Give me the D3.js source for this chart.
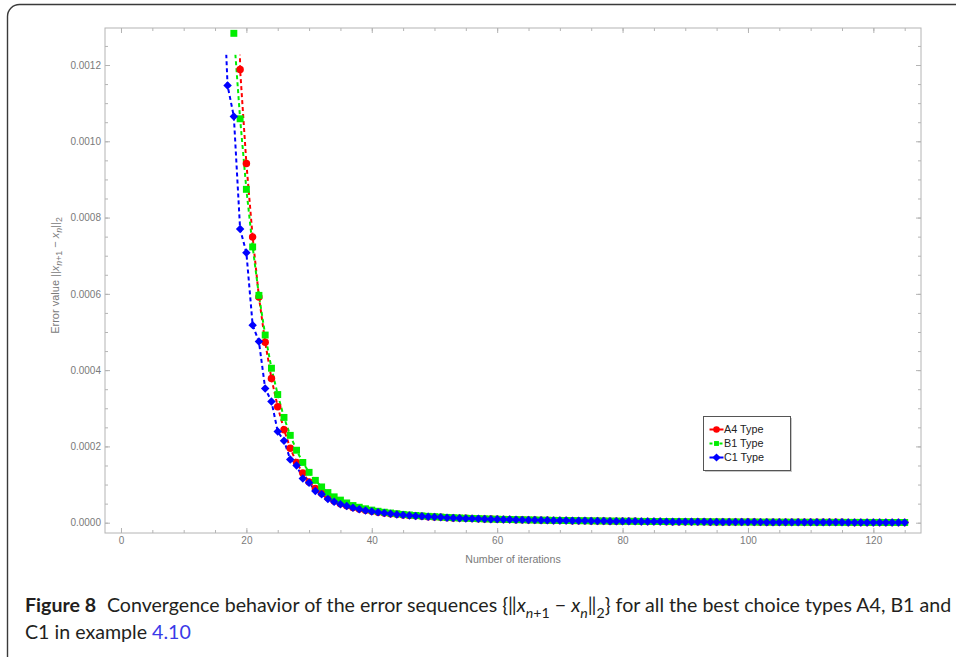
<!DOCTYPE html>
<html>
<head>
<meta charset="utf-8">
<script src="https://cdn.jsdelivr.net/npm/d3@7"></script>
<style>
  body { margin: 0; background: #fff; }
  svg { display: block; }
</style>
</head>
<body>
<script>
// ---------------- data ----------------
const seriesNames = ["A4 Type", "B1 Type", "C1 Type"];

// A4 Type, starting at iteration 18
const a4Start = 18;
const a4Values = [3.2e-3, 1.188e-3, 9.42e-4, 7.49e-4, 5.92e-4, 4.73e-4, 3.78e-4, 3.04e-4, 2.44e-4, 1.95e-4,
  1.58e-4, 1.30e-4, 1.07e-4, 8.95e-5, 7.70e-5, 6.55e-5, 5.70e-5, 5.00e-5, 4.45e-5, 3.98e-5,
  3.60e-5, 3.27e-5, 3.00e-5, 2.74e-5, 2.54e-5, 2.36e-5, 2.19e-5, 2.05e-5, 1.92e-5, 1.80e-5,
  1.69e-5, 1.59e-5, 1.50e-5, 1.41e-5, 1.33e-5, 1.26e-5, 1.20e-5, 1.14e-5, 1.08e-5, 1.03e-5,
  9.8e-6, 9.4e-6, 9.0e-6, 8.6e-6, 8.2e-6, 7.8e-6, 7.5e-6, 7.2e-6, 6.9e-6, 6.6e-6,
  6.3e-6, 6.0e-6, 5.8e-6, 5.5e-6, 5.3e-6, 5.1e-6, 4.9e-6, 4.7e-6, 4.5e-6, 4.3e-6,
  4.1e-6, 4.0e-6, 3.8e-6, 3.6e-6, 3.5e-6, 3.3e-6, 3.2e-6, 3.0e-6, 2.9e-6, 2.8e-6,
  2.7e-6, 2.6e-6, 2.5e-6, 2.4e-6, 2.3e-6, 2.2e-6, 2.1e-6, 2.0e-6, 1.9e-6, 1.8e-6,
  1.8e-6, 1.7e-6, 1.6e-6, 1.6e-6, 1.5e-6, 1.4e-6, 1.4e-6, 1.3e-6, 1.3e-6, 1.2e-6,
  1.2e-6, 1.1e-6, 1.1e-6, 1.0e-6, 1.0e-6, 1.0e-6, 9e-7, 9e-7, 8e-7, 8e-7,
  8e-7, 7e-7, 7e-7, 7e-7, 6e-7, 6e-7, 6e-7, 5e-7];

// B1 Type, starting at iteration 18
const b1Start = 18;
const b1Values = [1.283e-3, 1.059e-3, 8.74e-4, 7.23e-4, 5.96e-4, 4.92e-4, 4.05e-4, 3.36e-4, 2.76e-4, 2.29e-4,
  1.90e-4, 1.58e-4, 1.32e-4, 1.11e-4, 9.38e-5, 7.90e-5, 6.78e-5, 5.92e-5, 5.18e-5, 4.50e-5,
  4.05e-5, 3.65e-5, 3.30e-5, 3.00e-5, 2.75e-5, 2.54e-5, 2.35e-5, 2.18e-5, 2.03e-5, 1.90e-5,
  1.78e-5, 1.67e-5, 1.57e-5, 1.48e-5, 1.39e-5, 1.31e-5, 1.24e-5, 1.18e-5, 1.12e-5, 1.06e-5,
  1.01e-5, 9.6e-6, 9.2e-6, 8.8e-6, 8.4e-6, 8.0e-6, 7.7e-6, 7.4e-6, 7.1e-6, 6.8e-6,
  6.5e-6, 6.2e-6, 6.0e-6, 5.7e-6, 5.5e-6, 5.3e-6, 5.1e-6, 4.9e-6, 4.7e-6, 4.5e-6,
  4.3e-6, 4.2e-6, 4.0e-6, 3.8e-6, 3.7e-6, 3.5e-6, 3.4e-6, 3.2e-6, 3.1e-6, 3.0e-6,
  2.9e-6, 2.8e-6, 2.7e-6, 2.6e-6, 2.5e-6, 2.4e-6, 2.3e-6, 2.2e-6, 2.1e-6, 2.0e-6,
  1.9e-6, 1.8e-6, 1.8e-6, 1.7e-6, 1.6e-6, 1.6e-6, 1.5e-6, 1.4e-6, 1.4e-6, 1.3e-6,
  1.3e-6, 1.2e-6, 1.2e-6, 1.1e-6, 1.1e-6, 1.1e-6, 1.0e-6, 1.0e-6, 9e-7, 9e-7,
  9e-7, 8e-7, 8e-7, 8e-7, 7e-7, 7e-7, 7e-7, 6e-7];

// C1 Type, starting at iteration 16
const c1Start = 16;
const c1Values = [1.54e-3, 1.146e-3, 1.065e-3, 7.70e-4, 7.08e-4, 5.18e-4, 4.75e-4, 3.52e-4, 3.18e-4, 2.39e-4,
  2.15e-4, 1.66e-4, 1.50e-4, 1.16e-4, 1.05e-4, 8.34e-5, 7.45e-5, 6.20e-5, 5.48e-5, 4.85e-5,
  4.35e-5, 3.90e-5, 3.55e-5, 3.22e-5, 2.96e-5, 2.71e-5, 2.52e-5, 2.34e-5, 2.17e-5, 2.03e-5,
  1.90e-5, 1.78e-5, 1.67e-5, 1.57e-5, 1.48e-5, 1.40e-5, 1.32e-5, 1.25e-5, 1.19e-5, 1.13e-5,
  1.07e-5, 1.02e-5, 9.7e-6, 9.3e-6, 8.9e-6, 8.5e-6, 8.1e-6, 7.7e-6, 7.4e-6, 7.1e-6,
  6.8e-6, 6.5e-6, 6.2e-6, 6.0e-6, 5.7e-6, 5.5e-6, 5.3e-6, 5.1e-6, 4.9e-6, 4.7e-6,
  4.5e-6, 4.3e-6, 4.1e-6, 4.0e-6, 3.8e-6, 3.6e-6, 3.5e-6, 3.3e-6, 3.2e-6, 3.0e-6,
  2.9e-6, 2.8e-6, 2.7e-6, 2.6e-6, 2.5e-6, 2.4e-6, 2.3e-6, 2.2e-6, 2.1e-6, 2.0e-6,
  1.9e-6, 1.8e-6, 1.8e-6, 1.7e-6, 1.6e-6, 1.6e-6, 1.5e-6, 1.4e-6, 1.4e-6, 1.3e-6,
  1.3e-6, 1.2e-6, 1.2e-6, 1.1e-6, 1.1e-6, 1.0e-6, 1.0e-6, 1.0e-6, 9e-7, 9e-7,
  8e-7, 8e-7, 8e-7, 7e-7, 7e-7, 7e-7, 6e-7, 6e-7, 6e-7, 5e-7];

const xMajorTicks = [0, 20, 40, 60, 80, 100, 120];
const yMajorTicks = [0, 0.0002, 0.0004, 0.0006, 0.0008, 0.0010, 0.0012];

// ---------------- layout ----------------
const width = 956, height = 657;
const frame = { left: 105, right: 921, top: 28, bottom: 533 };
const colors = ["#ff0000", "#00ee00", "#0000ff"];
const tickGray = "#7a7a7a";
const axisGray = "#b4b4b4";

const svg = d3.select("body").append("svg")
  .attr("width", width)
  .attr("height", height);

// rounded figure box
svg.append("rect")
  .attr("x", 7.5).attr("y", 4.5)
  .attr("width", 970).attr("height", 670)
  .attr("rx", 12)
  .attr("fill", "none")
  .attr("stroke", "#3a3a3a")
  .attr("stroke-width", 1.4);

const x = d3.scaleLinear().domain([-2.55, 127.6]).range([frame.left, frame.right]);
const y = d3.scaleLinear().domain([0, 0.0012]).range([522.7, 65]);

const toPoints = (start, values) => values.map((v, i) => ({ n: start + i, v: v }));
const series = [
  toPoints(a4Start, a4Values),
  toPoints(b1Start, b1Values),
  toPoints(c1Start, c1Values)
];

// clip paths: lines stop a bit below the top frame, markers at the frame
const defs = svg.append("defs");
defs.append("clipPath").attr("id", "lineClip").append("rect")
  .attr("x", frame.left).attr("y", y(0.001227))
  .attr("width", frame.right - frame.left).attr("height", frame.bottom - y(0.001227));
defs.append("clipPath").attr("id", "markClip").append("rect")
  .attr("x", frame.left).attr("y", frame.top)
  .attr("width", frame.right - frame.left).attr("height", frame.bottom - frame.top);

// ---------------- axes ----------------
const xMinor = d3.range(0, 130, 5);
const yMinor = d3.range(0, 0.00129, 0.00005);

function styleAxis(g) {
  g.select(".domain").remove();
  g.selectAll(".tick line").attr("stroke", axisGray);
  g.selectAll(".tick text")
    .attr("fill", tickGray)
    .style("font-family", "'Liberation Sans', Arial, sans-serif")
    .style("font-size", "10px");
}

// bottom
svg.append("g").attr("transform", `translate(0,${frame.bottom})`)
  .call(d3.axisBottom(x).tickValues(xMinor).tickSize(-3).tickFormat(""))
  .call(styleAxis);
svg.append("g").attr("transform", `translate(0,${frame.bottom})`)
  .call(d3.axisBottom(x).tickValues(xMajorTicks).tickSize(-5).tickPadding(4).tickFormat(d3.format("d")))
  .call(styleAxis);
// top
svg.append("g").attr("transform", `translate(0,${frame.top})`)
  .call(d3.axisTop(x).tickValues(xMinor).tickSize(-3).tickFormat(""))
  .call(styleAxis);
svg.append("g").attr("transform", `translate(0,${frame.top})`)
  .call(d3.axisTop(x).tickValues(xMajorTicks).tickSize(-5).tickFormat(""))
  .call(styleAxis);
// left
svg.append("g").attr("transform", `translate(${frame.left},0)`)
  .call(d3.axisLeft(y).tickValues(yMinor).tickSize(-3).tickFormat(""))
  .call(styleAxis);
svg.append("g").attr("transform", `translate(${frame.left},0)`)
  .call(d3.axisLeft(y).tickValues(yMajorTicks).tickSize(-5).tickPadding(4).tickFormat(d3.format(".4f")))
  .call(styleAxis);
// right
svg.append("g").attr("transform", `translate(${frame.right},0)`)
  .call(d3.axisRight(y).tickValues(yMinor).tickSize(-3).tickFormat(""))
  .call(styleAxis);
svg.append("g").attr("transform", `translate(${frame.right},0)`)
  .call(d3.axisRight(y).tickValues(yMajorTicks).tickSize(-5).tickFormat(""))
  .call(styleAxis);

// frame
svg.append("rect")
  .attr("x", frame.left).attr("y", frame.top)
  .attr("width", frame.right - frame.left).attr("height", frame.bottom - frame.top)
  .attr("fill", "none").attr("stroke", axisGray).attr("stroke-width", 1);

// ---------------- text helper ----------------
// parts: {t, it, sub, bold, fill, dx}; sizes kept relative to a base size
function richText(sel, parts, baseSize, subScale) {
  let shift = 0;
  parts.forEach(p => {
    const want = p.sub ? 0.3 : 0;
    const ts = sel.append("tspan").text(p.t)
      .attr("data-dy", want - shift)
      .attr("data-size", p.sub ? subScale : 1);
    if (p.dx) ts.attr("data-dx", p.dx);
    if (p.it) ts.style("font-style", "italic");
    if (p.bold) ts.style("font-weight", "bold");
    if (p.fill) ts.attr("fill", p.fill);
    shift = want;
  });
  setSize(sel, baseSize);
}
function setSize(sel, size) {
  sel.selectAll("tspan").each(function () {
    const t = d3.select(this);
    t.style("font-size", (+t.attr("data-size") * size) + "px")
      .attr("dy", +t.attr("data-dy") * size);
    if (t.attr("data-dx")) t.attr("dx", +t.attr("data-dx") * size);
  });
}

// axis labels
svg.append("text")
  .attr("x", (frame.left + frame.right) / 2).attr("y", 563)
  .attr("text-anchor", "middle")
  .attr("fill", tickGray)
  .style("font-family", "'Liberation Sans', Arial, sans-serif")
  .style("font-size", "10.6px")
  .text("Number of iterations");

const yLab = svg.append("text")
  .attr("transform", `translate(59,${(frame.top + frame.bottom) / 2 - 5}) rotate(-90)`)
  .attr("text-anchor", "middle")
  .attr("fill", tickGray)
  .style("font-family", "'Liberation Sans', Arial, sans-serif");
richText(yLab, [
  { t: "Error value ||" },
  { t: "x", it: true },
  { t: "n", it: true, sub: true },
  { t: "+1", sub: true },
  { t: " \u2212 " },
  { t: "x", it: true },
  { t: "n", it: true, sub: true },
  { t: "||" },
  { t: "2", sub: true }
], 11, 0.8);

// ---------------- lines and markers ----------------
const line = d3.line().x(d => x(d.n)).y(d => y(d.v));
const symbols = [
  d3.symbol(d3.symbolCircle, 44),
  d3.symbol(d3.symbolSquare, 48),
  d3.symbol(d3.symbolSquare, 36)
];
const rotations = [0, 0, 45];

const lineG = svg.append("g").attr("clip-path", "url(#lineClip)");
series.forEach((s, i) => {
  lineG.append("path")
    .datum(s)
    .attr("d", line)
    .attr("fill", "none")
    .attr("stroke", colors[i])
    .attr("stroke-width", 2)
    .attr("stroke-dasharray", "4,3");
});

const markG = svg.append("g").attr("clip-path", "url(#markClip)");
series.forEach((s, i) => {
  markG.append("g").selectAll("path")
    .data(s)
    .join("path")
    .attr("d", symbols[i])
    .attr("transform", d => `translate(${x(d.n)},${y(d.v)}) rotate(${rotations[i]})`)
    .attr("fill", colors[i]);
});

// ---------------- legend ----------------
const legend = svg.append("g").attr("transform", "translate(703.5,416.5)");
legend.append("rect")
  .attr("x", 1.5).attr("y", 1.5).attr("width", 87).attr("height", 54)
  .attr("fill", "#c8c8c8");
legend.append("rect")
  .attr("width", 87).attr("height", 54)
  .attr("fill", "#fff").attr("stroke", "#555").attr("stroke-width", 1);
seriesNames.forEach((name, i) => {
  const row = legend.append("g").attr("transform", `translate(0,${13 + i * 14})`);
  row.append("line")
    .attr("x1", 6).attr("x2", 20)
    .attr("stroke", colors[i]).attr("stroke-width", 2)
    .attr("stroke-dasharray", i === 1 ? "3,2" : null);
  row.append("path")
    .attr("d", i === 1 ? d3.symbol(d3.symbolSquare, 24) : d3.symbol(i === 0 ? d3.symbolCircle : d3.symbolSquare, 34))
    .attr("transform", `translate(13,0) rotate(${rotations[i]})`)
    .attr("fill", colors[i]);
  row.append("text")
    .attr("x", 20.5).attr("dy", "0.35em")
    .attr("fill", "#222")
    .style("font-family", "'Liberation Sans', Arial, sans-serif")
    .style("font-size", "10.8px")
    .text(name);
});

// ---------------- caption ----------------
const capFont = "Lato, 'Open Sans', sans-serif";
const cap1 = svg.append("text")
  .attr("x", 25).attr("y", 612)
  .attr("fill", "#231f20")
  .style("font-family", capFont);
richText(cap1, [
  { t: "Figure 8", bold: true },
  { t: "Convergence behavior of the error sequences {\u2016", dx: 0.55 },
  { t: "x", it: true },
  { t: "n", it: true, sub: true },
  { t: "+1", sub: true },
  { t: " \u2212 " },
  { t: "x", it: true },
  { t: "n", it: true, sub: true },
  { t: "\u2016" },
  { t: "2", sub: true }
  , { t: "} for all the best choice types A4, B1 and" }
], 17, 0.72);

const cap2 = svg.append("text")
  .attr("x", 25).attr("y", 639)
  .attr("fill", "#231f20")
  .style("font-family", capFont);
richText(cap2, [
  { t: "C1 in example " },
  { t: "4.10", fill: "#3a3ae8" }
], 17, 0.72);

// fit caption line 1 to its width in the figure (25 .. 952)
function fitCaption() {
  setSize(cap1, 17);
  const w = cap1.node().getBBox().width;
  const size = 17 * 927 / w;
  setSize(cap1, size);
  setSize(cap2, size);
}
fitCaption();
if (document.fonts && document.fonts.ready) document.fonts.ready.then(fitCaption);
</script>
</body>
</html>
